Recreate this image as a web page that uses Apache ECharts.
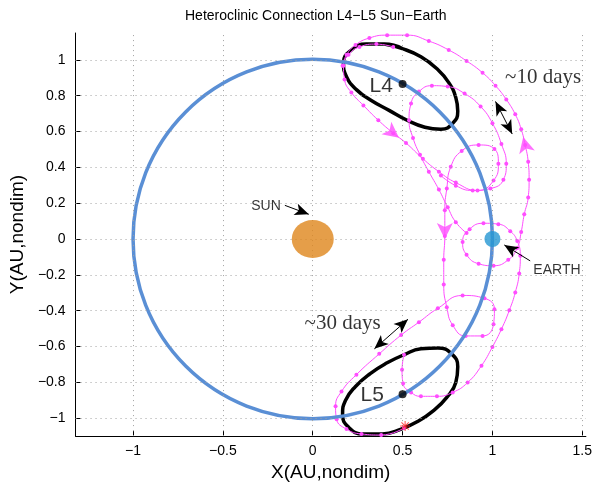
<!DOCTYPE html>
<html lang="en">
<head>
<meta charset="UTF-8">
<title>Heteroclinic Connection L4-L5</title>
<script src="https://cdnjs.cloudflare.com/ajax/libs/echarts/6.0.0/echarts.min.js"></script>
<style>
  html, body { margin: 0; padding: 0; background: #fff; }
  #main { width: 595px; height: 487px; }
</style>
</head>
<body>
<div id="main"></div>
<script>
// tick labels
const xTicks = [-1, -0.5, 0, 0.5, 1, 1.5];
const yTicks = [-1, -0.8, -0.6, -0.4, -0.2, 0, 0.2, 0.4, 0.6, 0.8, 1];

// bodies
const sunPos = [[0, 0]];
const earthPos = [[1, 0]];
const earthOrbit = [[0, 0, 1]];          // centre x, centre y, radius
const lagrangePts = [[0.5, 0.866], [0.5, -0.866]];
const startPt = [[0.514, -1.044]];

// periodic orbits round L4 and L5, first points repeated to close
const orbitL4 = [[0.398,1.088],[0.503,1.061],[0.602,1.017],[0.691,0.950],[0.757,0.873],[0.796,0.790],
  [0.807,0.713],[0.779,0.646],[0.713,0.613],[0.624,0.624],[0.525,0.663],[0.425,0.718],[0.326,0.773],
  [0.243,0.834],[0.188,0.906],[0.171,0.983],[0.215,1.055],[0.298,1.088],[0.398,1.088],[0.503,1.061]];
const orbitL5 = [[0.602,-0.613],[0.696,-0.608],[0.773,-0.641],[0.807,-0.713],[0.796,-0.801],[0.746,-0.884],
  [0.674,-0.956],[0.586,-1.017],[0.492,-1.061],[0.387,-1.088],[0.282,-1.088],[0.199,-1.050],[0.166,-0.978],
  [0.182,-0.901],[0.238,-0.823],[0.320,-0.751],[0.414,-0.691],[0.508,-0.646],[0.602,-0.613],[0.696,-0.608]];

// connecting trajectories
const transferDown = [[0.448,1.072],[0.354,1.088],[0.260,1.072],[0.199,1.028],[0.171,0.967],[0.177,0.890],
  [0.215,0.818],[0.282,0.746],[0.365,0.663],[0.448,0.591],[0.519,0.536],[0.613,0.448],[0.702,0.376],
  [0.796,0.315],[0.917,0.271],[1.006,0.326],[1.033,0.420],[1.011,0.503],[0.923,0.525],[0.829,0.492],
  [0.768,0.403],[0.746,0.282],[0.735,0.160],[0.735,0.017],[0.729,-0.116],[0.729,-0.254],[0.746,-0.381],
  [0.779,-0.481],[0.851,-0.541],[0.945,-0.541],[1.006,-0.475],[1.011,-0.392],[0.956,-0.331],[0.834,-0.315],
  [0.696,-0.387],[0.591,-0.464],[0.492,-0.536],[0.370,-0.641],[0.243,-0.757],[0.160,-0.851],[0.127,-0.934],
  [0.133,-1.006],[0.188,-1.061],[0.271,-1.088],[0.381,-1.094],[0.508,-1.055]];
const transferUp = [[0.508,-0.646],[0.497,-0.729],[0.503,-0.807],[0.547,-0.856],[0.602,-0.878],[0.691,-0.878],
  [0.779,-0.856],[0.862,-0.801],[0.939,-0.707],[1.000,-0.602],[1.050,-0.503],[1.094,-0.398],[1.127,-0.298],
  [1.149,-0.193],[1.155,-0.094],[1.138,-0.011],[1.099,0.044],[1.033,0.083],[0.950,0.088],[0.873,0.055],
  [0.834,-0.017],[0.856,-0.088],[0.923,-0.138],[1.006,-0.149],[1.088,-0.116],[1.138,-0.050],[1.160,0.039],
  [1.177,0.138],[1.199,0.232],[1.204,0.331],[1.199,0.431],[1.182,0.525],[1.160,0.613],[1.127,0.696],
  [1.077,0.779],[1.017,0.856],[0.945,0.928],[0.856,0.994],[0.757,1.055],[0.646,1.105],[0.525,1.138],
  [0.414,1.138],[0.315,1.122],[0.238,1.083],[0.188,1.028],[0.166,0.967]];
const transferLoop = [[0.856,0.033],[0.796,0.094],[0.751,0.177],[0.702,0.276],[0.646,0.376],[0.597,0.470],
  [0.558,0.564],[0.536,0.663],[0.547,0.757],[0.591,0.823],[0.663,0.856],[0.751,0.851],[0.845,0.812],
  [0.934,0.740],[1.000,0.646],[1.050,0.530],[1.077,0.420],[1.061,0.331],[0.989,0.282],[0.890,0.271],
  [0.796,0.298],[0.713,0.354]];

// flow direction arrows on the trajectories
const flowArrowPts = [[0.480,0.565],[0.735,0.0],[1.171,0.570]];
const flowArrowAngle = [-128, 180, 14];

// text annotations
const annoText = ['L4', 'L5', 'SUN', 'EARTH', '~10 days', '~30 days'];
const annoPos = [[0.381,0.851],[0.331,-0.873],[-0.260,0.182],[1.359,-0.171],[1.282,0.901],[0.166,-0.470]];

// pointer arrows [tail, tip]
const pointerArrows = [
  [[-0.155,0.188],[-0.022,0.138]],
  [[1.210,-0.122],[1.066,-0.033]]
];
const spanArrows = [
  [[1.017,0.768],[1.110,0.586]],
  [[0.343,-0.613],[0.530,-0.448]]
];

const chart = echarts.init(document.getElementById('main'));
const SANS = 'Liberation Sans';
const SERIF = 'Liberation Serif';
const MAGENTA = '#ff4dff';
const minus = v => String(v).replace('-', '\u2212');

const annoFont = [
  { fontSize: 21, fontFamily: SANS },
  { fontSize: 21, fontFamily: SANS },
  { fontSize: 14, fontFamily: SANS },
  { fontSize: 14, fontFamily: SANS },
  { fontSize: 21, fontFamily: SERIF },
  { fontSize: 21, fontFamily: SERIF }
];

function trajectory(name, data) {
  return {
    name: name,
    type: 'line',
    data: data,
    smooth: 0.5,
    symbol: 'circle',
    symbolSize: 4,
    showSymbol: true,
    lineStyle: { color: MAGENTA, width: 1 },
    itemStyle: { color: MAGENTA },
    z: 3
  };
}

function periodic(name, data) {
  return {
    name: name,
    type: 'line',
    data: data,
    smooth: 0.5,
    showSymbol: false,
    lineStyle: { color: '#000', width: 3.5 },
    z: 2
  };
}

const option = {
  animation: false,
  backgroundColor: '#fff',
  title: {
    text: 'Heteroclinic Connection L4\u2212L5 Sun\u2212Earth',
    left: 180,
    top: 4,
    textStyle: { fontFamily: SANS, fontSize: 14, fontWeight: 'normal', color: '#000' }
  },
  grid: { left: 72, right: 8, top: 33, bottom: 47 },
  xAxis: {
    type: 'value',
    min: -1.32,
    max: 1.52,
    name: 'X(AU,nondim)',
    nameLocation: 'middle',
    nameGap: 20,
    nameTextStyle: { fontFamily: SANS, fontSize: 19, color: '#000' },
    axisLine: { onZero: false, lineStyle: { color: '#000', width: 1 } },
    axisTick: { inside: true, length: 5, customValues: xTicks, lineStyle: { color: '#000' } },
    axisLabel: { customValues: xTicks, formatter: minus, margin: 8, fontFamily: SANS, fontSize: 14, color: '#000' },
    splitLine: { show: false }
  },
  yAxis: {
    type: 'value',
    min: -1.10,
    max: 1.15,
    name: 'Y(AU,nondim)',
    nameLocation: 'middle',
    nameGap: 47,
    nameTextStyle: { fontFamily: SANS, fontSize: 19, color: '#000' },
    axisLine: { onZero: false, lineStyle: { color: '#000', width: 1 } },
    axisTick: { inside: true, length: 5, customValues: yTicks, lineStyle: { color: '#000' } },
    axisLabel: { customValues: yTicks, formatter: minus, margin: 10, fontFamily: SANS, fontSize: 14, color: '#000' },
    splitLine: { show: false }
  },
  series: [
    {
      // dotted grid
      name: 'grid',
      type: 'line',
      data: [],
      z: 0,
      silent: true,
      markLine: {
        silent: true,
        symbol: ['none', 'none'],
        label: { show: false },
        lineStyle: { color: '#a0a0a0', width: 1, type: [1, 4] },
        data: xTicks.map(v => ({ xAxis: v })).concat(yTicks.map(v => ({ yAxis: v })))
      }
    },
    periodic('L4 orbit', orbitL4),
    periodic('L5 orbit', orbitL5),
    trajectory('down', transferDown),
    trajectory('up', transferUp),
    trajectory('loop', transferLoop),
    {
      name: 'Earth orbit',
      type: 'custom',
      data: earthOrbit,
      z: 4,
      renderItem: (params, api) => {
        const c = api.coord([api.value(0), api.value(1)]);
        const e = api.coord([api.value(0) + api.value(2), api.value(1)]);
        return {
          type: 'circle',
          shape: { cx: c[0], cy: c[1], r: e[0] - c[0] },
          style: { fill: 'none', stroke: '#5a8fd5', lineWidth: 3.5 }
        };
      }
    },
    {
      name: 'flow',
      type: 'scatter',
      data: flowArrowPts.map((p, i) => ({ value: p, symbolRotate: flowArrowAngle[i] })),
      symbol: 'arrow',
      symbolSize: [12, 16],
      itemStyle: { color: MAGENTA },
      z: 5
    },
    {
      name: 'Sun',
      type: 'scatter',
      data: sunPos,
      symbol: 'circle',
      symbolSize: [42, 38],
      itemStyle: { color: '#de861c' },
      z: 6
    },
    {
      name: 'Earth',
      type: 'scatter',
      data: earthPos,
      symbol: 'circle',
      symbolSize: 16,
      itemStyle: { color: '#2496d2' },
      z: 6
    },
    {
      name: 'Lagrange',
      type: 'scatter',
      data: lagrangePts,
      symbol: 'circle',
      symbolSize: 8,
      itemStyle: { color: '#000' },
      z: 6
    },
    {
      name: 'start',
      type: 'scatter',
      data: startPt,
      symbol: 'path://M9,0L11,0L11,20L9,20ZM0,9L20,9L20,11L0,11ZM2,3.4L3.4,2L18,16.6L16.6,18ZM16.6,2L18,3.4L3.4,18L2,16.6Z',
      symbolSize: 10,
      itemStyle: { color: '#ff2020' },
      z: 7
    },
    {
      name: 'annotations',
      type: 'scatter',
      symbolSize: 0,
      z: 8,
      silent: true,
      data: annoText.map((t, i) => ({
        name: t,
        value: annoPos[i],
        label: Object.assign({ show: true, position: 'inside', formatter: t, color: '#000' }, annoFont[i])
      })),
      markLine: {
        silent: true,
        symbolSize: [9, 14],
        label: { show: false },
        lineStyle: { color: '#000', width: 1, type: 'solid' },
        data: pointerArrows.map(a => [
          { coord: a[0], symbol: 'none' },
          { coord: a[1], symbol: 'arrow' }
        ]).concat(spanArrows.map(a => [
          { coord: a[0], symbol: 'arrow' },
          { coord: a[1], symbol: 'arrow' }
        ]))
      }
    }
  ]
};

chart.setOption(option);
</script>
</body>
</html>
